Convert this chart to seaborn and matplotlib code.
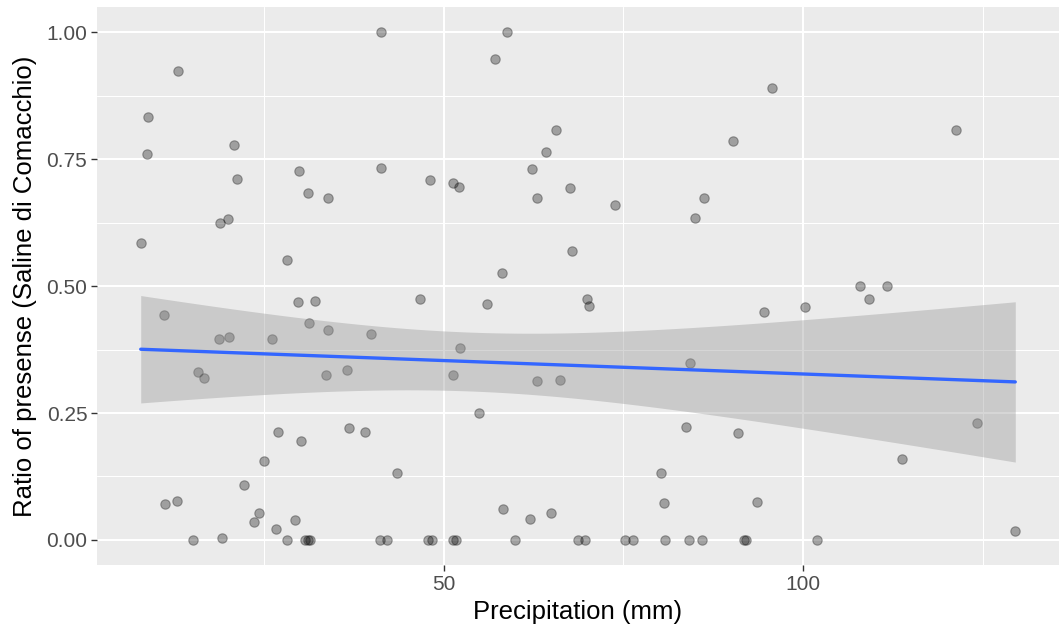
import numpy as np
import pandas as pd
import matplotlib
matplotlib.use("Agg")
import matplotlib.pyplot as plt
import seaborn as sns
from matplotlib.ticker import FixedLocator

# ---- data ----
precip_nonzero = [13.05, 8.9, 20.9, 8.8, 29.9, 21.3, 31.2, 34.0, 20.0, 18.9, 7.9, 28.2,
                  41.3, 58.8, 57.1, 65.6, 64.2, 41.3, 62.3, 48.1, 51.3, 52.1, 67.6, 63.0,
                  67.8, 58.1, 95.7, 90.2, 73.8, 86.2, 85.0, 121.3, 107.9, 111.7,
                  11.2, 18.8, 20.2, 26.2, 29.7, 32.1, 31.3, 34.0, 15.8, 16.7, 33.7, 27.0,
                  30.2, 25.0, 22.3, 11.3, 13.0, 24.4, 23.6, 29.3, 26.7, 19.2,
                  46.7, 56.0, 39.9, 52.3, 36.6, 51.3, 63.0, 66.2, 55.0, 36.9, 39.1, 43.6,
                  58.3, 62.0, 65.0, 70.0, 70.2, 94.6, 100.3, 84.3, 83.7, 90.9, 80.3, 80.7,
                  93.6, 109.2, 124.2, 113.8, 129.5]
ratio_nonzero = [0.924, 0.834, 0.778, 0.761, 0.727, 0.711, 0.683, 0.673, 0.632, 0.624, 0.586, 0.551,
                 1.0, 1.0, 0.947, 0.807, 0.765, 0.732, 0.730, 0.709, 0.704, 0.696, 0.694, 0.674,
                 0.569, 0.525, 0.890, 0.786, 0.659, 0.674, 0.635, 0.808, 0.500, 0.500,
                 0.444, 0.395, 0.400, 0.395, 0.468, 0.470, 0.427, 0.413, 0.331, 0.320, 0.325, 0.212,
                 0.194, 0.155, 0.109, 0.071, 0.077, 0.053, 0.036, 0.039, 0.022, 0.004,
                 0.474, 0.464, 0.405, 0.378, 0.334, 0.324, 0.314, 0.315, 0.250, 0.220, 0.212, 0.132,
                 0.060, 0.042, 0.054, 0.474, 0.460, 0.449, 0.459, 0.349, 0.222, 0.210, 0.132, 0.073,
                 0.075, 0.474, 0.230, 0.159, 0.017]
precip_zero = [15.1, 28.3, 30.8, 31.1, 31.4, 41.2, 42.2, 47.9, 48.4, 51.3, 51.8, 59.9,
               68.7, 69.7, 75.3, 76.4, 80.8, 84.1, 86.0, 91.8, 92.1, 101.9]
ratio_zero = [0.0] * len(precip_zero)

x_major = [50, 100]
x_minor = [25, 75, 125]
y_major = [0.0, 0.25, 0.5, 0.75, 1.0]
y_minor = [0.125, 0.375, 0.625, 0.875]
y_labels = ["0.00", "0.25", "0.50", "0.75", "1.00"]

df = pd.DataFrame({"precip": precip_nonzero + precip_zero,
                   "ratio": ratio_nonzero + ratio_zero})

# ---- linear fit with t-based 95% CI (like geom_smooth(method='lm')) ----
x = df["precip"].to_numpy()
y = df["ratio"].to_numpy()
n = len(x)
b1, b0 = np.polyfit(x, y, 1)
resid = y - (b0 + b1 * x)
s = np.sqrt(np.sum(resid ** 2) / (n - 2))
xbar = x.mean()
sxx = np.sum((x - xbar) ** 2)
dfree = n - 2
z = 1.959964
tq = z + (z ** 3 + z) / (4 * dfree) + (5 * z ** 5 + 16 * z ** 3 + 3 * z) / (96 * dfree ** 2)
xg = np.linspace(x.min(), x.max(), 80)
yg = b0 + b1 * xg
se = s * np.sqrt(1.0 / n + (xg - xbar) ** 2 / sxx)
fit = pd.DataFrame({"precip": xg, "fit": yg, "lo": yg - tq * se, "hi": yg + tq * se})

# ---- figure ----
sns.set_theme(style="darkgrid")
plt.rcParams["font.family"] = ["Liberation Sans", "DejaVu Sans"]

W, H = 1061, 631
fig = plt.figure(figsize=(W / 100, H / 100), dpi=100)
ax = fig.add_axes([97 / W, (H - 565.3) / H, (1059 - 97) / W, (565.3 - 7) / H])
ax.set_facecolor("#EBEBEB")
for sp in ax.spines.values():
    sp.set_visible(False)

sns.scatterplot(data=df, x="precip", y="ratio", ax=ax, s=46,
                color=(0, 0, 0, 0.32), edgecolor=(0, 0, 0, 0.32), linewidth=0.8,
                zorder=3, legend=False)
ax.fill_between(fit["precip"], fit["lo"], fit["hi"], color="#999999", alpha=0.4,
                linewidth=0, zorder=4)
sns.lineplot(data=fit, x="precip", y="fit", ax=ax, color="#3366FF", linewidth=2.4,
             zorder=5)

xr = x.max() - x.min()
ax.set_xlim(x.min() - 0.05 * xr, x.max() + 0.05 * xr)
ax.set_ylim(-0.05, 1.05)

ax.xaxis.set_major_locator(FixedLocator(x_major))
ax.xaxis.set_minor_locator(FixedLocator(x_minor))
ax.yaxis.set_major_locator(FixedLocator(y_major))
ax.yaxis.set_minor_locator(FixedLocator(y_minor))
ax.set_yticklabels(y_labels)
ax.set_xticklabels([str(v) for v in x_major])

ax.grid(which="major", color="white", linewidth=1.5, zorder=0)
ax.grid(which="minor", color="white", linewidth=0.75, zorder=0)
ax.set_axisbelow(True)

ax.tick_params(which="major", length=4, width=1.0, color="#333333",
               labelcolor="#4D4D4D", labelsize=15, pad=3,
               bottom=True, left=True)
ax.tick_params(which="minor", length=0)

ax.set_xlabel("Precipitation (mm)", fontsize=18.5, color="black", labelpad=4)
ax.set_ylabel("Ratio of presense (Saline di Comacchio)", fontsize=18.5,
              color="black", labelpad=7)

fig.savefig("out.png", dpi=100, facecolor="white")
